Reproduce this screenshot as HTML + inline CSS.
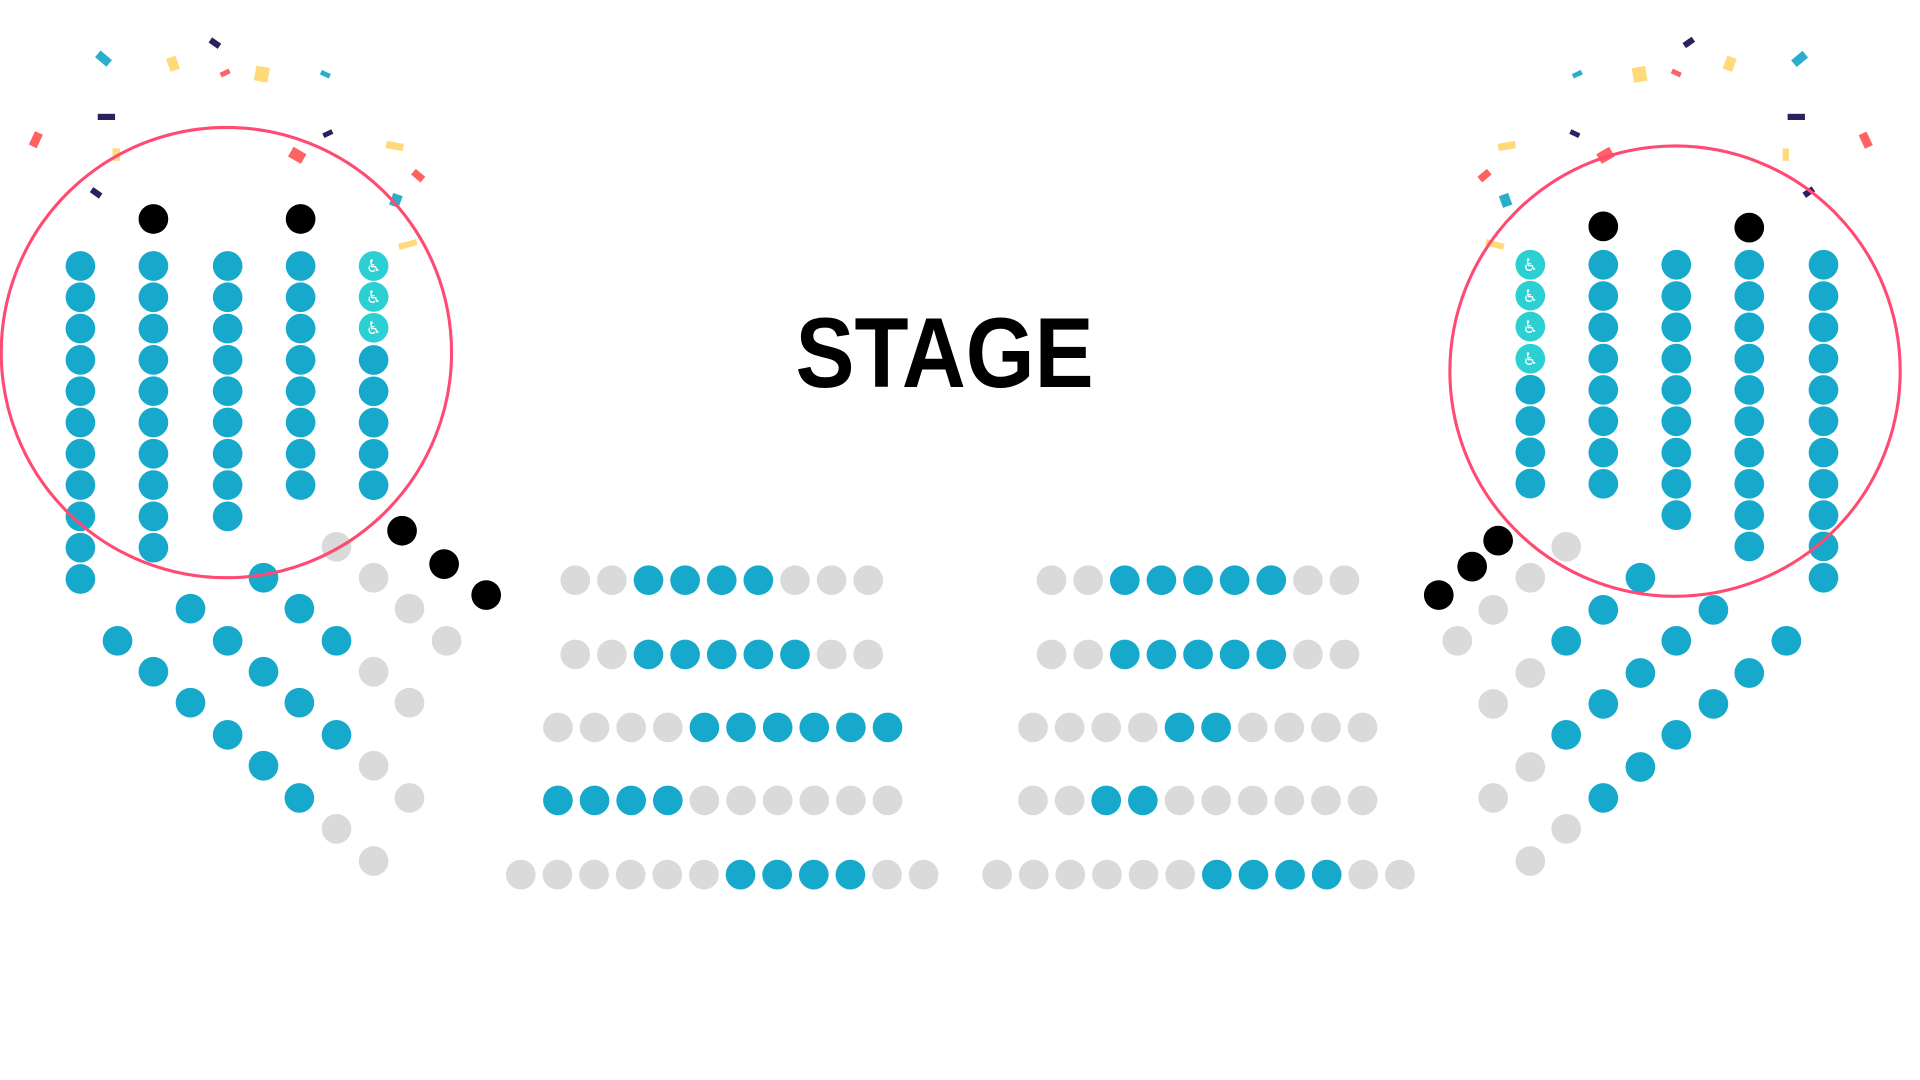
<!DOCTYPE html>
<html><head><meta charset="utf-8"><style>html,body{margin:0;padding:0;background:#fff;}svg{display:block}</style></head>
<body>
<svg width="1920" height="1080" viewBox="0 0 1552 873" xmlns="http://www.w3.org/2000/svg">
<g id="conf">
<rect x="78" y="44" width="12" height="7" fill="#2aaecb" transform="rotate(40 84 47)"/>
<rect x="136" y="46" width="8" height="11" fill="#ffd97a" transform="rotate(-20 140 52)"/>
<rect x="169" y="32" width="9" height="5" fill="#2e1f5e" transform="rotate(35 173 35)"/>
<rect x="178" y="57" width="8" height="4" fill="#ff6262" transform="rotate(-25 182 59)"/>
<rect x="206" y="54" width="11" height="12" fill="#ffd97a" transform="rotate(10 212 61)"/>
<rect x="259" y="58" width="8" height="4" fill="#2aaecb" transform="rotate(25 263 60)"/>
<rect x="79" y="92" width="14" height="5" fill="#2e1f5e"/>
<rect x="25" y="107" width="7" height="12" fill="#ff6262" transform="rotate(25 29 114)"/>
<rect x="91" y="120" width="6" height="10" fill="#ffd97a"/>
<rect x="234" y="121" width="12" height="9" fill="#ff6262" transform="rotate(30 240 126)"/>
<rect x="261" y="106" width="8" height="4" fill="#2e1f5e" transform="rotate(-25 265 108)"/>
<rect x="312" y="115" width="14" height="6" fill="#ffd97a" transform="rotate(10 319 118)"/>
<rect x="333" y="139" width="10" height="6" fill="#ff6262" transform="rotate(40 338 142)"/>
<rect x="316" y="157" width="8" height="10" fill="#2aaecb" transform="rotate(20 320 162)"/>
<rect x="73" y="153" width="9" height="5" fill="#2e1f5e" transform="rotate(35 77 156)"/>
<rect x="322" y="195" width="15" height="5" fill="#ffd97a" transform="rotate(-15 330 197)"/>
<rect x="1449" y="44" width="12" height="7" fill="#2aaecb" transform="rotate(-40 1455 48)"/>
<rect x="1394" y="46" width="8" height="11" fill="#ffd97a" transform="rotate(20 1398 52)"/>
<rect x="1361" y="32" width="9" height="5" fill="#2e1f5e" transform="rotate(-35 1365 35)"/>
<rect x="1351" y="57" width="8" height="4" fill="#ff6262" transform="rotate(25 1355 59)"/>
<rect x="1320" y="54" width="11" height="12" fill="#ffd97a" transform="rotate(-10 1326 61)"/>
<rect x="1271" y="58" width="8" height="4" fill="#2aaecb" transform="rotate(-25 1275 60)"/>
<rect x="1445" y="92" width="14" height="5" fill="#2e1f5e"/>
<rect x="1505" y="107" width="7" height="12" fill="#ff6262" transform="rotate(-25 1509 114)"/>
<rect x="1441" y="120" width="5" height="10" fill="#ffd97a"/>
<rect x="1292" y="121" width="12" height="9" fill="#ff6262" transform="rotate(-30 1298 126)"/>
<rect x="1269" y="106" width="8" height="4" fill="#2e1f5e" transform="rotate(25 1273 108)"/>
<rect x="1211" y="115" width="14" height="6" fill="#ffd97a" transform="rotate(-10 1218 118)"/>
<rect x="1195" y="139" width="10" height="6" fill="#ff6262" transform="rotate(-40 1200 142)"/>
<rect x="1213" y="157" width="8" height="10" fill="#2aaecb" transform="rotate(-20 1217 162)"/>
<rect x="1458" y="153" width="9" height="5" fill="#2e1f5e" transform="rotate(-35 1462 156)"/>
<rect x="1201" y="195" width="15" height="5" fill="#ffd97a" transform="rotate(15 1208 197)"/>
</g>
<text x="643" y="313" font-family="Liberation Sans, sans-serif" font-weight="bold" font-size="80" textLength="241" lengthAdjust="spacingAndGlyphs" fill="#000">STAGE</text>
<g id="dots"></g>
<ellipse cx="183" cy="285" rx="182" ry="182" fill="none" stroke="#ff4a72" stroke-width="2.5"/>
<ellipse cx="1354" cy="300" rx="182" ry="182" fill="none" stroke="#ff4a72" stroke-width="2.5"/>
</svg>
<script>
var g=document.getElementById('dots'),B='#17a9cc',G='#dadada',K='#000',W='#2ccfd2',ns='http://www.w3.org/2000/svg';
function d(x,y,c,r){var e=document.createElementNS(ns,'circle');e.setAttribute('cx',x);e.setAttribute('cy',y);e.setAttribute('r',r||12);e.setAttribute('fill',c);g.appendChild(e);}
function w(x,y){d(x,y,W);var t=document.createElementNS(ns,'text');t.setAttribute('x',x);t.setAttribute('y',y+5);t.setAttribute('text-anchor','middle');t.setAttribute('font-size','14');t.setAttribute('fill','#fff');t.setAttribute('font-family','DejaVu Sans, sans-serif');t.textContent='\u267F';g.appendChild(t);}
var sp=25.3;
function col(x,y0,n,c){for(var i=0;i<n;i++)d(x,y0+i*sp,c||B);}
// left block
col(65,215,11);col(124,215,10);d(124,177,K);col(184,215,9);col(243,215,8);d(243,177,K);
w(302,215);w(302,240);w(302,265);col(302,291,5);
[[213,467],[154,492],[242,492],[95,518],[184,518],[272,518],[124,543],[213,543],[154,568],[242,568],[184,594],[272,594],[213,619],[242,645]].forEach(function(p){d(p[0],p[1],B)});
[[272,442],[302,467],[331,492],[361,518],[302,543],[331,568],[302,619],[331,645],[272,670],[302,696]].forEach(function(p){d(p[0],p[1],G)});
[[325,429],[359,456],[393,481]].forEach(function(p){d(p[0],p[1],K)});
// right block
w(1237,214);w(1237,239);w(1237,264);w(1237,290);col(1237,315,4);
d(1296,183,K);col(1296,214,8);col(1355,214,9);d(1414,184,K);col(1414,214,10);col(1474,214,11);
[[1326,467],[1296,493],[1385,493],[1266,518],[1355,518],[1444,518],[1326,544],[1414,544],[1296,569],[1385,569],[1266,594],[1355,594],[1326,620],[1296,645]].forEach(function(p){d(p[0],p[1],B)});
[[1266,442],[1237,467],[1207,493],[1178,518],[1237,544],[1207,569],[1237,620],[1207,645],[1266,670],[1237,696]].forEach(function(p){d(p[0],p[1],G)});
[[1211,437],[1190,458],[1163,481]].forEach(function(p){d(p[0],p[1],K)});
// center rows
function row(x0,y,pat){for(var i=0;i<pat.length;i++)d(x0+i*29.6,y,pat[i]=='b'?B:G,12);}
row(465,469,'ggbbbbggg');row(850,469,'ggbbbbbgg');
row(465,529,'ggbbbbbgg');row(850,529,'ggbbbbbgg');
row(451,588,'ggggbbbbbb');row(835,588,'ggggbbgggg');
row(451,647,'bbbbgggggg');row(835,647,'ggbbgggggg');
row(421,707,'ggggggbbbbgg');row(806,707,'ggggggbbbbgg');
</script>
</body></html>
